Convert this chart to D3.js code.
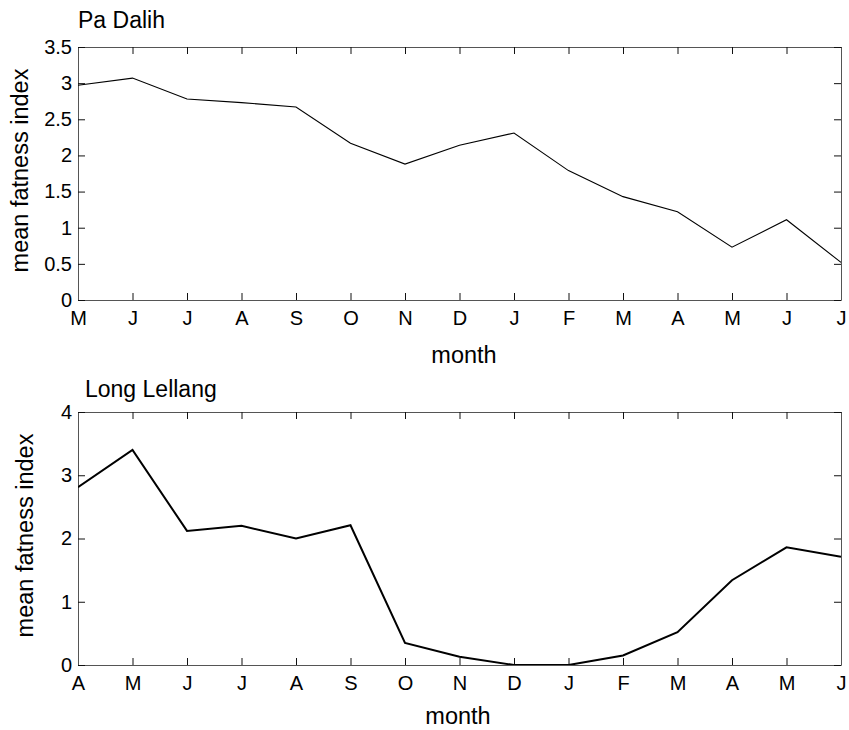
<!DOCTYPE html>
<html>
<head>
<meta charset="utf-8">
<script src="https://cdn.jsdelivr.net/npm/d3@7"></script>
<style>
  body { margin: 0; background: #fff; }
  text { font-family: "Liberation Sans", Arial, sans-serif; fill: #000; }
  .axis text { font-size: 20px; }
  .axis .domain { stroke: #555; }
  .axis line { stroke: #111; }
</style>
</head>
<body>
<div class="chart-area"></div>
<script>
// month labels for each panel
var monthsPaDalih = ["M", "J", "J", "A", "S", "O", "N", "D", "J", "F", "M", "A", "M", "J", "J"];
var monthsLongLellang = ["A", "M", "J", "J", "A", "S", "O", "N", "D", "J", "F", "M", "A", "M", "J"];

// mean fatness index
var fatPaDalih = [2.97, 3.07, 2.78, 2.73, 2.67, 2.17, 1.88, 2.14, 2.31, 1.79, 1.43, 1.22, 0.73, 1.11, 0.52];
var fatLongLellang = [2.81, 3.40, 2.12, 2.20, 2.00, 2.21, 0.35, 0.13, 0.0, 0.0, 0.15, 0.52, 1.34, 1.86, 1.71];

// y ticks
var ticksPaDalih = [0, 0.5, 1, 1.5, 2, 2.5, 3, 3.5];
var ticksLongLellang = [0, 1, 2, 3, 4];

var svg = d3.select(".chart-area").append("svg")
    .attr("width", 849)
    .attr("height", 730);

function drawPanel(opt) {
    var left = 78, right = 841;
    var x = d3.scaleLinear()
        .domain([0, opt.months.length - 1])
        .range([left, right]);
    var y = d3.scaleLinear()
        .domain([0, opt.yMax])
        .range([opt.bottom, opt.top]);

    var idx = d3.range(opt.months.length);

    // bottom axis with labels
    svg.append("g")
        .attr("class", "axis")
        .attr("transform", "translate(0," + opt.bottom + ")")
        .call(d3.axisBottom(x)
            .tickValues(idx)
            .tickFormat(function(d) { return opt.months[d]; })
            .tickSizeInner(-7)
            .tickSizeOuter(0)
            .tickPadding(11));

    // top axis, ticks only
    svg.append("g")
        .attr("class", "axis")
        .attr("transform", "translate(0," + opt.top + ")")
        .call(d3.axisTop(x)
            .tickValues(idx)
            .tickFormat("")
            .tickSizeInner(-7)
            .tickSizeOuter(0));

    // left axis with labels
    svg.append("g")
        .attr("class", "axis")
        .attr("transform", "translate(" + left + ",0)")
        .call(d3.axisLeft(y)
            .tickValues(opt.yTicks)
            .tickFormat(d3.format("~g"))
            .tickSizeInner(-7)
            .tickSizeOuter(0)
            .tickPadding(6));

    // right axis, ticks only
    svg.append("g")
        .attr("class", "axis")
        .attr("transform", "translate(" + right + ",0)")
        .call(d3.axisRight(y)
            .tickValues(opt.yTicks)
            .tickFormat("")
            .tickSizeInner(-7)
            .tickSizeOuter(0));

    // clip so the line stays inside the box
    svg.append("clipPath")
        .attr("id", opt.id)
        .append("rect")
        .attr("x", left)
        .attr("y", opt.top)
        .attr("width", right - left)
        .attr("height", opt.bottom - opt.top);

    var line = d3.line()
        .x(function(d, i) { return x(i); })
        .y(function(d) { return y(d); });

    svg.append("path")
        .datum(opt.values)
        .attr("clip-path", "url(#" + opt.id + ")")
        .attr("fill", "none")
        .attr("stroke", "#000")
        .attr("stroke-width", opt.lineWidth)
        .attr("d", line);

    // panel title
    svg.append("text")
        .attr("x", opt.titleX)
        .attr("y", opt.titleY)
        .style("font-size", "23px")
        .text(opt.title);

    // y axis title
    svg.append("text")
        .attr("transform", "translate(" + opt.yLabelX + "," + ((opt.top + opt.bottom) / 2 - 3) + ") rotate(-90)")
        .attr("text-anchor", "middle")
        .style("font-size", "23.5px")
        .text("mean fatness index");

    // x axis title
    svg.append("text")
        .attr("x", opt.xLabelX)
        .attr("y", opt.bottom + opt.xLabelDy)
        .attr("text-anchor", "middle")
        .style("font-size", "23.5px")
        .text("month");
}

drawPanel({
    id: "clipTop",
    title: "Pa Dalih",
    titleX: 78, titleY: 28,
    months: monthsPaDalih,
    values: fatPaDalih,
    yMax: 3.5,
    yTicks: ticksPaDalih,
    top: 47, bottom: 300,
    lineWidth: 1.1,
    yLabelX: 28,
    xLabelX: 464, xLabelDy: 63
});

drawPanel({
    id: "clipBottom",
    title: "Long Lellang",
    titleX: 85, titleY: 397,
    months: monthsLongLellang,
    values: fatLongLellang,
    yMax: 4,
    yTicks: ticksLongLellang,
    top: 412, bottom: 665,
    lineWidth: 2,
    yLabelX: 33,
    xLabelX: 458, xLabelDy: 59
});
</script>
</body>
</html>
